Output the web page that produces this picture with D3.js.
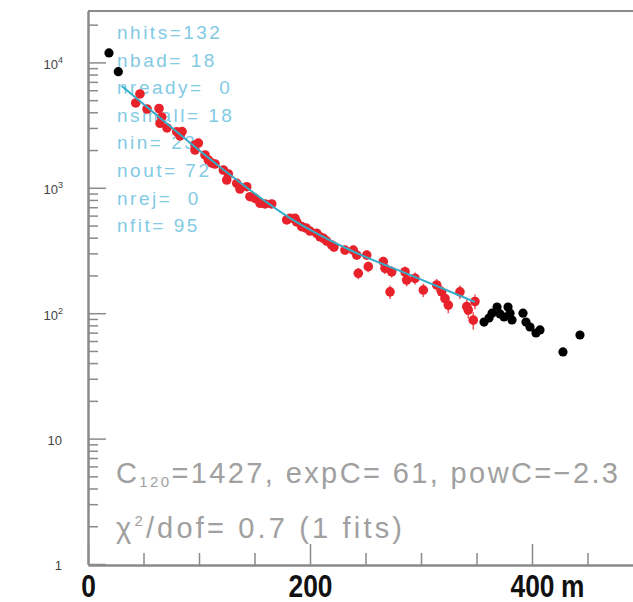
<!DOCTYPE html>
<html><head><meta charset="utf-8">
<script src="https://cdn.jsdelivr.net/npm/d3@7"></script>
<style>body{margin:0;background:#fff}svg{display:block}</style>
</head><body><svg id="c" width="633" height="602"></svg>
<script>
// ---- data ----
const redX = [46.8,43.0,53.2,64.0,66.4,64.9,71.2,79.9,84.7,82.9,96.4,99.4,96.4,105.4,108.4,111.4,114.4,121.9,126.4,125.0,134.0,136.9,143.0,145.9,150.5,155.0,159.5,165.5,179.0,182.0,186.5,188.0,192.5,196.4,200.0,206.0,209.0,212.0,215.0,219.5,221.6,231.5,239.0,242.1,243.5,251.1,252.5,266.0,267.6,273.6,272.1,285.6,287.1,294.6,302.1,314.1,318.6,321.6,324.6,335.1,341.2,342.6,348.6,347.1];
const redY = [5600,4750,4250,4290,3670,3270,3000,2800,2810,2590,2195,2275,2000,1828,1667,1578,1548,1387,1288,1154,1086,977,1020,849,824,752,743,743,554,571,571,534,490,478,452,434,407,396,376,350,337,319,319,291,208,291,235,258,228,214,148,214,184,190,153,168,148,131,116,148,113,106,124,88];
const blackX = [18.9,27.3,356.8,361.3,364.0,368.5,371.2,374.8,378.4,380.2,382.0,391.9,394.6,398.2,403.6,407.2,427.9,443.2];
const blackY = [11900,8430,85,91.6,100,112,98.6,93.3,112,100,88.3,100,85,77.6,69.5,73.5,49.1,67];
const fitX = [30.4,65,120,182,236,290,348.6];
const fitY = [6490,3600,1440,574,319,202,123];
const xMajorTicks = [0,200,400];
const xTickLabels = ["0","200","400"];
const xUnit = "m";
const yMajorTicks = [1,10,100,1000,10000];
const yExponents = ["","","2","3","4"];
const yBases = ["1","10","10","10","10"];
const statsLines = ["nhits=132","nbad= 18","nready=  0","nsmall= 18","nin= 23","nout= 72","nrej=  0","nfit= 95"];
const fitParams = {c: "1427", exp: "61", pow: "\u22122.3"};
const chiText = {val: "0.7", fits: "1"};

// ---- layout ----
const svg = d3.select("#c");
const X0 = 88, X1 = 643, Y0 = 564, YT = 11;
const x = d3.scaleLinear().domain([0, 500]).range([X0, X1]);
const yTop = Math.pow(10, (Y0 - YT) / 125.4);
const y = d3.scaleLog().domain([1, yTop]).range([Y0, YT]);
const axisCol = "#8a8a8a";

// stats text (behind the marks)
const st = svg.append("g").attr("font-family", "Liberation Sans, Arial, sans-serif")
  .attr("font-size", 19).attr("fill", "#82cae4").style("letter-spacing", "2.5px");
statsLines.forEach((s, i) => {
  st.append("text").attr("x", 117).attr("y", 39 + i * 27.6)
    .style("white-space", "pre").attr("xml:space", "preserve").text(s);
});

// fit info text
const ft = svg.append("g").attr("font-family", "Liberation Sans, Arial, sans-serif").attr("fill", "#a0a0a0");
const t1 = ft.append("text").attr("x", 116).attr("y", 483).attr("font-size", 29)
  .attr("textLength", 502).attr("lengthAdjust", "spacing").style("white-space", "pre");
t1.append("tspan").text("C");
t1.append("tspan").attr("font-size", 15).attr("dy", 4).text("120");
t1.append("tspan").attr("dy", -4).text("=" + fitParams.c + ", expC= " + fitParams.exp + ", powC=" + fitParams.pow);
const t2 = ft.append("text").attr("x", 116).attr("y", 538).attr("font-size", 29)
  .attr("textLength", 286).attr("lengthAdjust", "spacing").style("white-space", "pre");
t2.append("tspan").text("\u03c7");
t2.append("tspan").attr("font-size", 15).attr("dy", -12).text("2");
t2.append("tspan").attr("dy", 12).text("/dof= " + chiText.val + " (" + chiText.fits + " fits)");

// axes
const minorX = x.ticks(10).filter(v => !xMajorTicks.includes(v));
const gxMinor = svg.append("g").attr("transform", `translate(0,${Y0 + 1})`)
  .call(d3.axisBottom(x).tickValues(minorX).tickSize(-12).tickSizeOuter(0).tickFormat(""));
const gx = svg.append("g").attr("transform", `translate(0,${Y0 + 1})`)
  .call(d3.axisBottom(x).tickValues(xMajorTicks).tickSize(-21).tickSizeOuter(0).tickPadding(10)
    .tickFormat((d, i) => xTickLabels[i]));
[gxMinor, gx].forEach(g => {
  g.select(".domain").attr("stroke", axisCol).attr("stroke-width", 2);
  g.selectAll(".tick line").attr("stroke", axisCol).attr("stroke-width", 1.5);
});
gx.selectAll(".tick text").attr("font-family", "Liberation Sans, Arial, sans-serif")
  .attr("font-weight", "bold").attr("font-size", 31).attr("fill", "#111")
  .attr("transform", "scale(0.85,1)");
svg.append("text").attr("x", 561).attr("y", Y0 + 11).attr("dy", "0.71em")
  .attr("font-family", "Liberation Sans, Arial, sans-serif").attr("font-weight", "bold")
  .attr("font-size", 31).attr("fill", "#111")
  .attr("transform", `translate(561,0) scale(0.85,1) translate(-561,0)`).text(xUnit);

const minorY = y.ticks().filter(v => !yMajorTicks.includes(v));
const gyMinor = svg.append("g").attr("transform", `translate(${X0},0)`)
  .call(d3.axisLeft(y).tickValues(minorY).tickSize(-10).tickSizeOuter(0).tickFormat(""));
const gy = svg.append("g").attr("transform", `translate(${X0},0)`)
  .call(d3.axisLeft(y).tickValues(yMajorTicks).tickSize(-18).tickSizeOuter(0).tickPadding(30).tickFormat(""));
[gyMinor, gy].forEach(g => {
  g.select(".domain").attr("stroke", axisCol).attr("stroke-width", 2);
  g.selectAll(".tick line").attr("stroke", axisCol).attr("stroke-width", 1.5);
});
gy.selectAll(".tick text").each(function(d, i) {
  const t = d3.select(this).attr("x", -25).attr("font-family", "Liberation Sans, Arial, sans-serif")
    .attr("font-size", 13).attr("fill", "#444").attr("dy", "0.45em");
  t.append("tspan").text(yBases[i]);
  if (yExponents[i]) t.append("tspan").attr("font-size", 9).attr("dy", -6).text(yExponents[i]);
  else t.attr("x", -26);
});
// top frame
svg.append("line").attr("x1", X0).attr("x2", 633).attr("y1", YT).attr("y2", YT)
  .attr("stroke", axisCol).attr("stroke-width", 2);

// marks
const defs = svg.append("defs");
defs.append("filter").attr("id", "soft").attr("x", "-50%").attr("y", "-50%").attr("width", "200%").attr("height", "200%")
  .append("feGaussianBlur").attr("stdDeviation", 0.7);

const red = redX.map((v, i) => ({x: v, y: redY[i]}));
const black = blackX.map((v, i) => ({x: v, y: blackY[i]}));
const marks = svg.append("g").attr("filter", "url(#soft)");
marks.selectAll("line.err").data(red).join("line").attr("class", "err")
  .attr("x1", d => x(d.x)).attr("x2", d => x(d.x))
  .attr("y1", d => y(d.y * (1 + 1.5 / Math.sqrt(d.y))))
  .attr("y2", d => y(d.y * (1 - 1.5 / Math.sqrt(d.y))))
  .attr("stroke", "#ef5a5f").attr("stroke-width", 1.6);
marks.selectAll("circle.r").data(red).join("circle").attr("class", "r")
  .attr("cx", d => x(d.x)).attr("cy", d => y(d.y)).attr("r", 4.8).attr("fill", "#e8222b");
marks.selectAll("circle.b").data(black).join("circle").attr("class", "b")
  .attr("cx", d => x(d.x)).attr("cy", d => y(d.y)).attr("r", 4.6).attr("fill", "#000");

const fit = fitX.map((v, i) => [v, fitY[i]]);
svg.append("path").attr("d", d3.line().x(d => x(d[0])).y(d => y(d[1])).curve(d3.curveMonotoneX)(fit))
  .attr("fill", "none").attr("stroke", "#35adc8").attr("stroke-width", 2);
</script>
</body></html>
